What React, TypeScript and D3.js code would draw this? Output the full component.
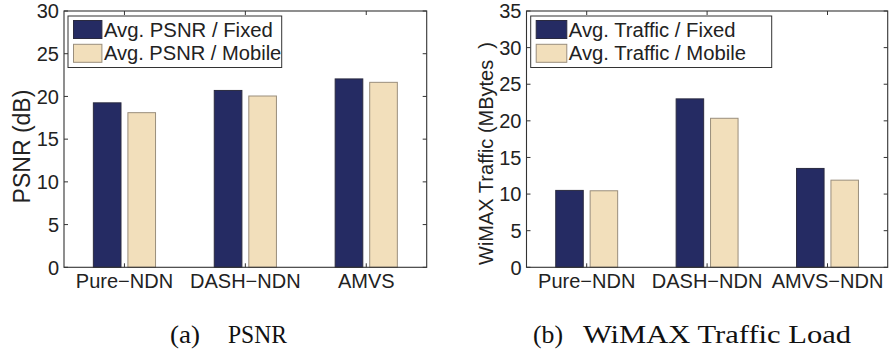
import React from "react";
import * as d3 from "d3";

const categoriesA = ["Pure\u2212NDN", "DASH\u2212NDN", "AMVS"];
const psnrFixed = [19.25, 20.7, 22.05];
const psnrMobile = [18.1, 20.05, 21.65];
const psnrTicks = [0, 5, 10, 15, 20, 25, 30];
const legendA = ["Avg. PSNR / Fixed", "Avg. PSNR / Mobile"];

const categoriesB = ["Pure\u2212NDN", "DASH\u2212NDN", "AMVS\u2212NDN"];
const trafficFixed = [10.5, 23.0, 13.5];
const trafficMobile = [10.45, 20.35, 11.9];
const trafficTicks = [0, 5, 10, 15, 20, 25, 30, 35];
const legendB = ["Avg. Traffic / Fixed", "Avg. Traffic / Mobile"];

const NAVY = "#252b63";
const BEIGE = "#f2dfbb";
const SANS = "Liberation Sans, Arial, Helvetica, sans-serif";
const SERIF = "Liberation Serif, Times New Roman, serif";

type PanelProps = {
  x0: number;
  x1: number;
  yMax: number;
  ticks: number[];
  cats: string[];
  fixed: number[];
  mobile: number[];
  legend: string[];
  legendLens: number[];
  legendBox: { x: number; w: number; sw: number };
  yLabel: string;
  yLabelX: number;
  yLabelY: number;
  yLabelSize: number;
};

function Panel(p: PanelProps) {
  const top = 11;
  const bottom = 267.3;
  const x = d3.scaleLinear().domain([0.5, 3.5]).range([p.x0, p.x1]);
  const y = d3.scaleLinear().domain([0, p.yMax]).range([bottom, top]);
  const gw = 2 / 3.5;
  const off = gw / 4;
  const bw = (gw / 2) * 0.8;
  const tl = 4;
  const series = [
    { vals: p.fixed, color: NAVY, stroke: "#2a2a40", d: -off },
    { vals: p.mobile, color: BEIGE, stroke: "#9a8e7c", d: off },
  ];
  const lx = p.legendBox.x;
  return (
    <g>
      <rect x={p.x0} y={top} width={p.x1 - p.x0} height={bottom - top} fill="#fff" />
      {series.map((s, si) =>
        s.vals.map((v, i) => (
          <rect
            key={`${si}-${i}`}
            x={x(i + 1 + s.d - bw / 2)}
            y={y(v)}
            width={x(bw) - x(0)}
            height={bottom - y(v)}
            fill={s.color}
            stroke={s.stroke}
            strokeWidth={1}
          />
        ))
      )}
      <rect x={p.x0} y={top} width={p.x1 - p.x0} height={bottom - top} fill="none" stroke="#333" strokeWidth={1.1} />
      {p.ticks.map((t) => (
        <g key={t}>
          <line x1={p.x0} x2={p.x0 + tl} y1={y(t)} y2={y(t)} stroke="#333" />
          <line x1={p.x1} x2={p.x1 - tl} y1={y(t)} y2={y(t)} stroke="#333" />
          <text
            x={p.x0 - 5}
            y={y(t)}
            dy="0.36em"
            textAnchor="end"
            fontFamily={SANS}
            fontSize={20}
            fill="#222"
          >
            {t}
          </text>
        </g>
      ))}
      {p.cats.map((c, i) => (
        <g key={c}>
          <line x1={x(i + 1)} x2={x(i + 1)} y1={bottom} y2={bottom - tl} stroke="#333" />
          <line x1={x(i + 1)} x2={x(i + 1)} y1={top} y2={top + tl} stroke="#333" />
          <text x={x(i + 1)} y={288} textAnchor="middle" fontFamily={SANS} fontSize={20} fill="#222">
            {c}
          </text>
        </g>
      ))}
      <text
        transform={`translate(${p.yLabelX},${p.yLabelY}) rotate(-90)`}
        textAnchor="middle"
        fontFamily={SANS}
        fontSize={p.yLabelSize}
        fill="#222"
        style={{ whiteSpace: "pre" }}
      >
        {p.yLabel}
      </text>
      <rect x={lx} y={16} width={p.legendBox.w} height={51.5} fill="#fff" stroke="#333" strokeWidth={1} />
      {series.map((s, i) => (
        <g key={`lg${i}`}>
          <rect
            x={lx + 5.5}
            y={20.5 + i * 23.8}
            width={p.legendBox.sw}
            height={18}
            fill={s.color}
            stroke={s.stroke}
          />
          <text
            x={lx + 5.5 + p.legendBox.sw + 2}
            y={37.3 + i * 23}
            fontFamily={SANS}
            fontSize={20}
            fill="#222"
            textLength={p.legendLens[i]}
            lengthAdjust="spacingAndGlyphs"
          >
            {p.legend[i]}
          </text>
        </g>
      ))}
    </g>
  );
}

export default function App() {
  return (
    <svg
      width={890}
      height={351}
      style={{ position: "absolute", left: 0, top: 0, background: "#fff" }}
    >
      <rect width={890} height={351} fill="#fff" />
      <Panel
        x0={64}
        x1={426.7}
        yMax={30}
        ticks={psnrTicks}
        cats={categoriesA}
        fixed={psnrFixed}
        mobile={psnrMobile}
        legend={legendA}
        legendLens={[169, 177.4]}
        legendBox={{ x: 68, w: 213.7, sw: 28.4 }}
        yLabel="PSNR (dB)"
        yLabelX={30}
        yLabelY={146.5}
        yLabelSize={23}
      />
      <Panel
        x0={526.5}
        x1={887.7}
        yMax={35}
        ticks={trafficTicks}
        cats={categoriesB}
        fixed={trafficFixed}
        mobile={trafficMobile}
        legend={legendB}
        legendLens={[166.7, 177.3]}
        legendBox={{ x: 530.7, w: 241, sw: 30.6 }}
        yLabel={"WiMAX Traffic (MBytes  )"}
        yLabelX={492.5}
        yLabelY={153.5}
        yLabelSize={20}
      />
      <g fontFamily={SERIF} fontSize={26} fill="#111">
        <text x={170} y={342.5} textLength={30} lengthAdjust="spacingAndGlyphs">(a)</text>
        <text x={228} y={342.5} textLength={59} lengthAdjust="spacingAndGlyphs">PSNR</text>
        <text x={533} y={342.5} textLength={30} lengthAdjust="spacingAndGlyphs">(b)</text>
        <text x={583} y={342.5} textLength={268} lengthAdjust="spacingAndGlyphs">WiMAX Traffic Load</text>
      </g>
    </svg>
  );
}
